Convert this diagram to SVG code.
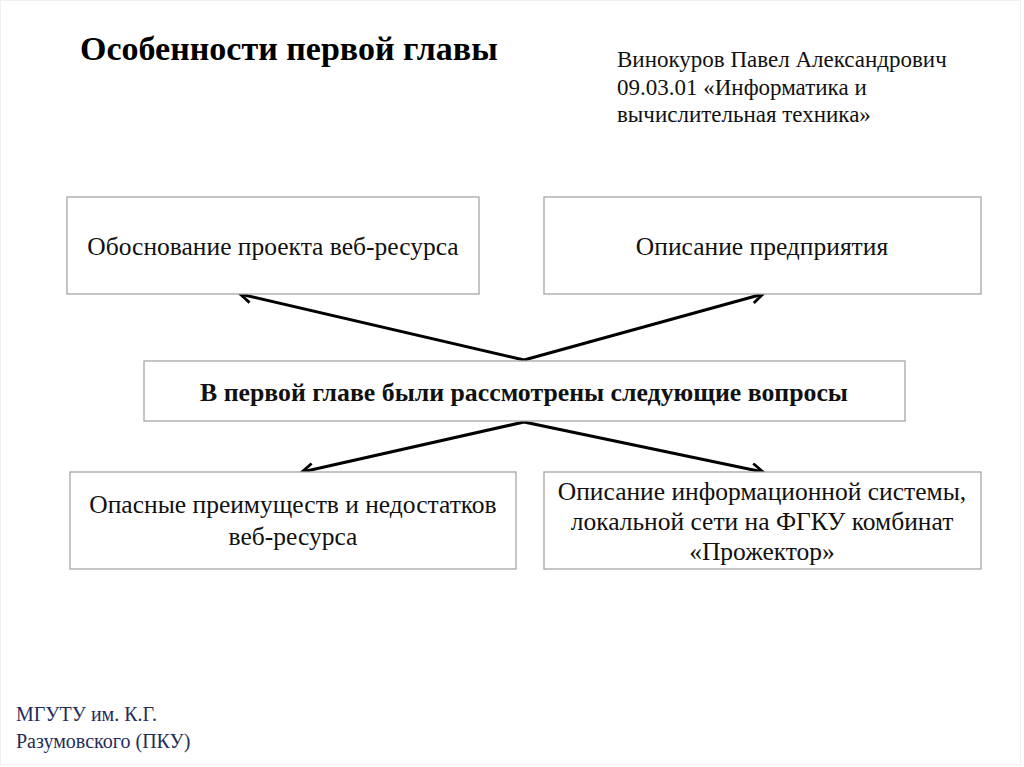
<svg xmlns="http://www.w3.org/2000/svg" width="1024" height="767" viewBox="0 0 1024 767">
<defs>
<style>
.box{fill:#fff;stroke:#a6a6a6;stroke-width:1.3}
.t{font-family:"Liberation Serif","Times New Roman",serif;font-size:25.5px;fill:#111;text-anchor:middle}
.conn{stroke:#000;stroke-width:3;fill:none;marker-end:url(#ah)}
</style>
<marker id="ah" viewBox="0 0 12 12" refX="10" refY="6" markerWidth="5" markerHeight="5" orient="auto" markerUnits="strokeWidth">
<path d="M1,1 L10,6 L1,11" fill="none" stroke="#000" stroke-width="2.2"/>
</marker>
</defs>
<rect x="0" y="0" width="1024" height="767" fill="#fff"/>
<rect x="0.5" y="0.5" width="1020" height="764" fill="none" stroke="#f0f0f0"/>
<text x="80" y="60" font-family="Liberation Serif, serif" font-weight="bold" font-size="34" fill="#000">Особенности первой главы</text>
<g id="author" font-family="Liberation Serif, serif" font-size="23" fill="#111">
<text x="617" y="67">Винокуров Павел Александрович</text>
<text x="617" y="95">09.03.01 «Информатика и</text>
<text x="617" y="122">вычислительная техника»</text>
</g>
<g id="connectors">
<line class="conn" x1="524" y1="360" x2="240" y2="294"/>
<line class="conn" x1="524" y1="360" x2="763" y2="294"/>
<line class="conn" x1="524" y1="422" x2="302" y2="472"/>
<line class="conn" x1="524" y1="422" x2="763" y2="472"/>
</g>
<g id="n1">
<rect class="box" x="67" y="197" width="412" height="97"/>
<text class="t" x="273" y="255">Обоснование проекта веб-ресурса</text>
</g>
<g id="n2">
<rect class="box" x="544" y="197" width="437" height="97"/>
<text class="t" x="762" y="255">Описание предприятия</text>
</g>
<g id="n3">
<rect class="box" x="144" y="361" width="761" height="60"/>
<text class="t" x="524" y="401" font-weight="bold" font-size="25" textLength="648" lengthAdjust="spacingAndGlyphs">В первой главе были рассмотрены следующие вопросы</text>
</g>
<g id="n4">
<rect class="box" x="70" y="472" width="446" height="97"/>
<text class="t" x="293" y="513">Опасные преимуществ и недостатков</text>
<text class="t" x="293" y="545">веб-ресурса</text>
</g>
<g id="n5">
<rect class="box" x="544" y="472" width="437" height="97"/>
<text class="t" x="762" y="500">Описание информационной системы,</text>
<text class="t" x="762" y="530">локальной сети на ФГКУ комбинат</text>
<text class="t" x="762" y="560">«Прожектор»</text>
</g>
<g id="footer" font-family="Liberation Serif, serif" font-size="20" fill="#1f2d5a">
<text x="16" y="721">МГУТУ им. К.Г.</text>
<text x="16" y="748">Разумовского (ПКУ)</text>
</g>
</svg>
